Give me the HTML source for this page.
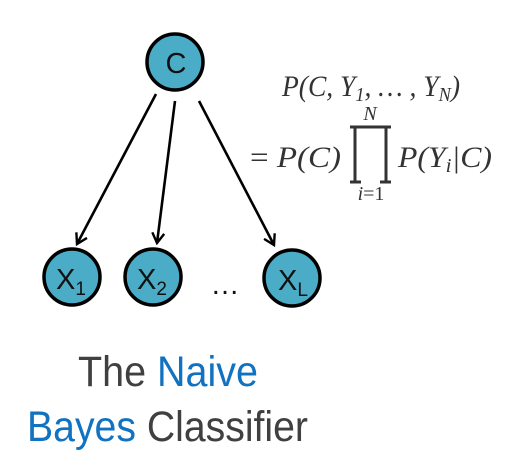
<!DOCTYPE html>
<html><head><meta charset="utf-8"><style>html,body{margin:0;padding:0;background:#fff}svg{display:block}</style></head>
<body>
<svg width="514" height="453" viewBox="0 0 514 453">
<defs><marker id="ah" markerWidth="14" markerHeight="14" refX="11" refY="7" orient="auto" markerUnits="userSpaceOnUse"><path d="M1,1 L11,7 L1,13" fill="none" stroke="#000" stroke-width="2.4"/></marker></defs>
<g stroke="#000" stroke-width="2.6" fill="none">
<line x1="156" y1="94" x2="77" y2="244" marker-end="url(#ah)"/>
<line x1="175" y1="101" x2="157" y2="243" marker-end="url(#ah)"/>
<line x1="199" y1="101" x2="274" y2="245" marker-end="url(#ah)"/>
</g>
<g fill="#4aacc6" stroke="#000" stroke-width="3.5">
<circle cx="175" cy="62" r="28"/>
<circle cx="72" cy="277" r="28"/>
<circle cx="153" cy="277" r="28"/>
<circle cx="292" cy="278" r="28"/>
</g>
<g font-family="Liberation Sans, sans-serif" fill="#111" font-size="29">
<text x="176" y="73" text-anchor="middle">C</text>
<text x="56" y="289">X<tspan font-size="19" dy="6">1</tspan></text>
<text x="137" y="289">X<tspan font-size="19" dy="6">2</tspan></text>
<text x="278" y="290">X<tspan font-size="19" dy="6">L</tspan></text>
<text x="225" y="294" text-anchor="middle">…</text>
</g>
<g font-family="Liberation Serif, serif" font-style="italic" fill="#333" font-size="30">
<text x="282" y="96" textLength="178" lengthAdjust="spacingAndGlyphs">P(C, Y<tspan font-size="20" dy="5">1</tspan><tspan dy="-5">, … , Y</tspan><tspan font-size="20" dy="5">N</tspan><tspan dy="-5">)</tspan></text>
<text x="250" y="167" textLength="91" lengthAdjust="spacingAndGlyphs"><tspan font-style="normal">=</tspan> P(C)</text>
<text x="370" y="120" font-size="20" text-anchor="middle">N</text>
<text x="371" y="200" font-size="20" text-anchor="middle">i<tspan font-style="normal">=1</tspan></text>
<text x="398" y="167" textLength="94" lengthAdjust="spacingAndGlyphs">P(Y<tspan font-size="20" dy="5">i</tspan><tspan dy="-5">|C)</tspan></text>
</g>
<path d="M350,127 H391 M355,127 V182 M386,127 V182 M350,182 H361 M380,182 H391" stroke="#333" stroke-width="3" fill="none"/>
<g font-family="Liberation Sans, sans-serif" font-size="43">
<text x="78" y="386" textLength="180" lengthAdjust="spacingAndGlyphs" fill="#404040">The <tspan fill="#1072c0">Naive</tspan></text>
<text x="27" y="441" textLength="281" lengthAdjust="spacingAndGlyphs" fill="#404040"><tspan fill="#1072c0">Bayes</tspan> Classifier</text>
</g>
</svg>
</body></html>
